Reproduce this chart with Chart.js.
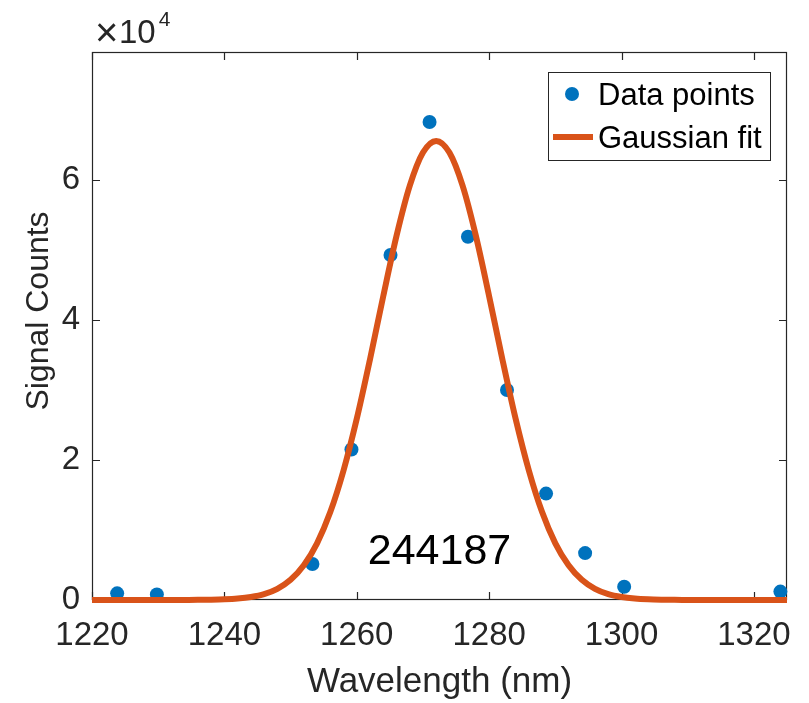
<!DOCTYPE html>
<html>
<head>
<meta charset="utf-8">
<title>Signal Counts vs Wavelength</title>
<script src="https://cdn.jsdelivr.net/npm/chart.js@4.4.1/dist/chart.umd.min.js"></script>
<style>
    html, body { margin: 0; padding: 0; background: #ffffff; }
    #wrap { width: 809px; height: 703px; }
</style>
</head>
<body>
<div id="wrap"><canvas id="chartSpectrum" width="809" height="703"></canvas></div>
<script>
// measured spectrum (nm, counts)
const measuredWavelengths = [1223.8, 1229.8, 1253.3, 1259.2, 1265.1, 1271.0, 1276.8, 1282.7, 1288.6, 1294.5, 1300.4, 1324.0];
const measuredCounts = [950, 800, 5140, 21500, 49300, 68300, 51900, 30000, 15200, 6700, 1900, 1200];

// fitted curve, sampled every 2 nm
const fitWavelengths = [
    1220, 1222, 1224, 1226, 1228, 1230, 1232, 1234, 1236, 1238, 1240, 1242, 1244, 1246,
    1248, 1250, 1252, 1254, 1256, 1258, 1260, 1262, 1264, 1266, 1268, 1270, 1272,
    1274, 1276, 1278, 1280, 1282, 1284, 1286, 1288, 1290, 1292, 1294, 1296, 1298,
    1300, 1302, 1304, 1306, 1308, 1310, 1312, 1314, 1316, 1318, 1320, 1322, 1324, 1325
];
const fitCounts = [
    0, 0, 0, 0, 0, 0, 0, 10, 20, 40, 90, 200, 420, 830,
    1590, 2880, 4960, 8100, 12560, 18510, 25890, 34390, 43400, 52000, 59160, 63930, 65600,
    63930, 59160, 52000, 43400, 34390, 25890, 18510, 12560, 8100, 4960, 2880, 1590, 830,
    420, 200, 90, 40, 20, 10, 0, 0, 0, 0, 0, 0, 0, 0
];

const xTickValues = [1220, 1240, 1260, 1280, 1300, 1320];
const yTickValues = [0, 20000, 40000, 60000];
const yTickLabels = ['0', '2', '4', '6'];

const totalCountsText = '244187';
const totalCountsAt = { x: 1272.5, y: 6800 };

const AXIS_COLOR = '#262626';
const BLUE = '#0072BD';
const ORANGE = '#D95319';
const FONT = "'Liberation Sans', Arial, Helvetica, sans-serif";

// box, inward ticks, exponent, y label, legend and the count label
const matlabAxes = {
    id: 'matlabAxes',
    beforeDatasetsDraw(chart) {
        const { ctx, chartArea: a, scales } = chart;
        ctx.save();
        ctx.strokeStyle = AXIS_COLOR;
        ctx.lineWidth = 1.2;
        ctx.strokeRect(a.left + 0.5, a.top + 0.5, a.right - a.left - 1, a.bottom - a.top - 1);
        ctx.beginPath();
        xTickValues.forEach(v => {
            const px = Math.round(scales.x.getPixelForValue(v)) + 0.5;
            ctx.moveTo(px, a.bottom);
            ctx.lineTo(px, a.bottom - 8);
            ctx.moveTo(px, a.top);
            ctx.lineTo(px, a.top + 8);
        });
        yTickValues.forEach(v => {
            const py = Math.round(scales.y.getPixelForValue(v)) + 0.5;
            ctx.moveTo(a.left, py);
            ctx.lineTo(a.left + 8, py);
            ctx.moveTo(a.right, py);
            ctx.lineTo(a.right - 8, py);
        });
        ctx.stroke();
        ctx.restore();
    },
    afterDraw(chart) {
        const { ctx, chartArea: a, scales } = chart;
        ctx.save();

        // x10^4 exponent
        ctx.fillStyle = AXIS_COLOR;
        ctx.textBaseline = 'alphabetic';
        ctx.textAlign = 'left';
        ctx.font = '40px ' + FONT;
        ctx.fillText('\u00d7', a.left + 3, a.top - 6);
        ctx.font = '33px ' + FONT;
        ctx.fillText('10', a.left + 27, a.top - 9);
        const w10 = ctx.measureText('10').width;
        ctx.font = '21px ' + FONT;
        ctx.fillText('4', a.left + 30 + w10, a.top - 26);

        // y axis label
        ctx.save();
        ctx.translate(39, 311);
        ctx.rotate(-Math.PI / 2);
        ctx.font = '32px ' + FONT;
        ctx.textAlign = 'center';
        ctx.textBaseline = 'middle';
        ctx.fillText('Signal Counts', 0, 0);
        ctx.restore();

        // count label
        ctx.fillStyle = '#000000';
        ctx.font = '43px ' + FONT;
        ctx.textAlign = 'center';
        ctx.textBaseline = 'middle';
        ctx.fillText(totalCountsText,
            scales.x.getPixelForValue(totalCountsAt.x),
            scales.y.getPixelForValue(totalCountsAt.y));

        // legend
        const boxRight = a.right - 17;
        const boxTop = a.top + 20;
        const boxW = 222, boxH = 88;
        const boxLeft = boxRight - boxW;
        ctx.fillStyle = '#ffffff';
        ctx.fillRect(boxLeft, boxTop, boxW, boxH);
        ctx.strokeStyle = AXIS_COLOR;
        ctx.lineWidth = 1;
        ctx.strokeRect(boxLeft + 0.5, boxTop + 0.5, boxW, boxH);

        const sets = chart.data.datasets;
        const pts = sets.find(d => d.label === 'Data points');
        const fit = sets.find(d => d.label === 'Gaussian fit');
        const textX = boxLeft + 50;
        const row1 = boxTop + 23, row2 = boxTop + 66;

        ctx.fillStyle = pts.backgroundColor;
        ctx.beginPath();
        ctx.arc(boxLeft + 24, row1 - 1, pts.pointRadius, 0, Math.PI * 2);
        ctx.fill();

        ctx.strokeStyle = fit.borderColor;
        ctx.lineWidth = fit.borderWidth;
        ctx.beginPath();
        ctx.moveTo(boxLeft + 5, row2 - 1);
        ctx.lineTo(boxLeft + 45, row2 - 1);
        ctx.stroke();

        ctx.fillStyle = '#000000';
        ctx.font = '31px ' + FONT;
        ctx.textAlign = 'left';
        ctx.textBaseline = 'middle';
        ctx.fillText(pts.label, textX, row1 + 1);
        ctx.fillText(fit.label, textX, row2 + 1);

        ctx.restore();
    }
};

const ctx = document.getElementById('chartSpectrum').getContext('2d');
new Chart(ctx, {
    type: 'scatter',
    data: {
        datasets: [
            {
                label: 'Gaussian fit',
                data: fitWavelengths.map((x, i) => ({ x: x, y: fitCounts[i] })),
                showLine: true,
                borderColor: ORANGE,
                backgroundColor: ORANGE,
                borderWidth: 6,
                pointRadius: 0,
                cubicInterpolationMode: 'monotone',
                clip: false,
                order: 0
            },
            {
                label: 'Data points',
                data: measuredWavelengths.map((x, i) => ({ x: x, y: measuredCounts[i] })),
                showLine: false,
                backgroundColor: BLUE,
                borderWidth: 0,
                pointRadius: 7,
                pointHoverRadius: 7,
                clip: false,
                order: 1
            }
        ]
    },
    options: {
        responsive: false,
        animation: false,
        devicePixelRatio: 1,
        layout: { padding: { left: 0, top: 52, right: 22, bottom: 0 } },
        plugins: {
            legend: { display: false },
            tooltip: { enabled: false }
        },
        scales: {
            x: {
                type: 'linear',
                min: 1220,
                max: 1325,
                grid: { display: false, drawTicks: false },
                border: { display: false },
                afterBuildTicks: s => { s.ticks = xTickValues.map(v => ({ value: v })); },
                afterFit: s => { s.height = 103; },
                ticks: {
                    color: AXIS_COLOR,
                    font: { family: FONT, size: 33 },
                    padding: 16,
                    maxRotation: 0,
                    autoSkip: false,
                    callback: v => String(v)
                },
                title: {
                    display: true,
                    text: 'Wavelength (nm)',
                    color: AXIS_COLOR,
                    font: { family: FONT, size: 35 },
                    padding: { top: 0, bottom: 0 }
                }
            },
            y: {
                type: 'linear',
                min: 0,
                max: 78300,
                grid: { display: false, drawTicks: false },
                border: { display: false },
                afterBuildTicks: s => { s.ticks = yTickValues.map(v => ({ value: v })); },
                afterFit: s => { s.width = 92; },
                ticks: {
                    color: AXIS_COLOR,
                    font: { family: FONT, size: 33 },
                    padding: 12,
                    autoSkip: false,
                    callback: v => yTickLabels[yTickValues.indexOf(v)]
                }
            }
        }
    },
    plugins: [matlabAxes]
});
</script>
</body>
</html>
